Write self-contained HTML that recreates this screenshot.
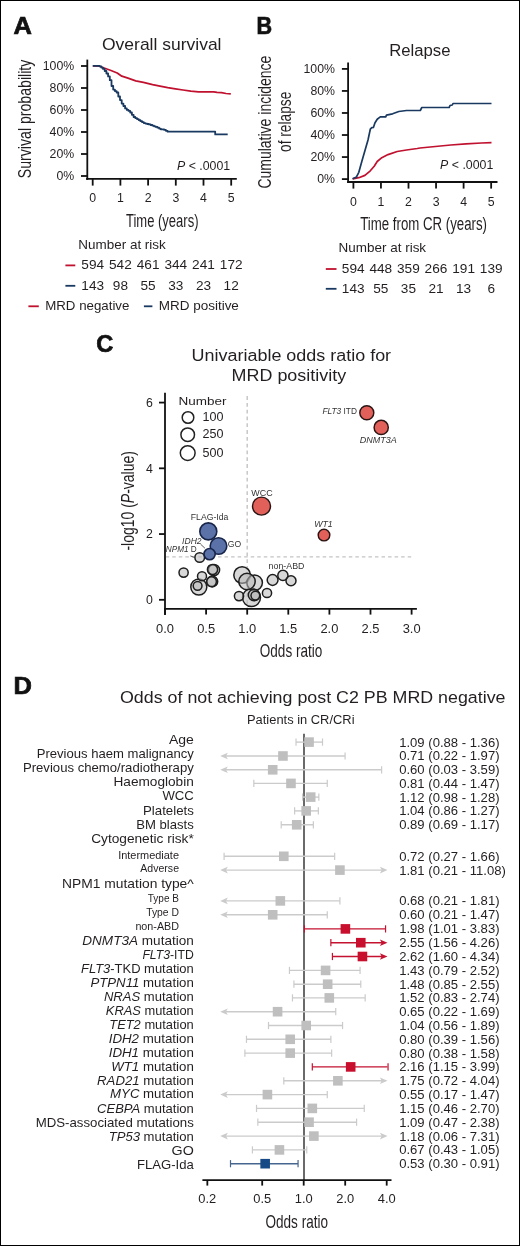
<!DOCTYPE html>
<html><head><meta charset="utf-8"><title>Figure</title>
<style>
html,body{margin:0;padding:0;background:#fff;}
body{width:520px;height:1246px;overflow:hidden;}
svg{display:block;font-family:"Liberation Sans",sans-serif;will-change:transform;}
</style></head><body>
<svg width="520" height="1246" viewBox="0 0 520 1246" fill="#231f20">
<rect x="0" y="0" width="520" height="1246" fill="#fff"/>
<text x="13.40" y="33.50" font-size="23.5" textLength="18.40" lengthAdjust="spacingAndGlyphs" font-weight="bold" fill="#111" stroke="#111" stroke-width="0.7">A</text>
<text x="102.00" y="49.80" font-size="17" textLength="119.50" lengthAdjust="spacingAndGlyphs">Overall survival</text>
<line x1="87.30" y1="59.60" x2="87.30" y2="179.90" stroke="#111" stroke-width="1.8"/>
<line x1="81.00" y1="66.00" x2="87.30" y2="66.00" stroke="#111" stroke-width="1.8"/>
<text x="74.20" y="70.30" font-size="12.3" text-anchor="end" textLength="31.46" lengthAdjust="spacingAndGlyphs">100%</text>
<line x1="81.00" y1="88.00" x2="87.30" y2="88.00" stroke="#111" stroke-width="1.8"/>
<text x="74.20" y="92.30" font-size="12.3" text-anchor="end" textLength="24.62" lengthAdjust="spacingAndGlyphs">80%</text>
<line x1="81.00" y1="110.00" x2="87.30" y2="110.00" stroke="#111" stroke-width="1.8"/>
<text x="74.20" y="114.30" font-size="12.3" text-anchor="end" textLength="24.62" lengthAdjust="spacingAndGlyphs">60%</text>
<line x1="81.00" y1="132.00" x2="87.30" y2="132.00" stroke="#111" stroke-width="1.8"/>
<text x="74.20" y="136.30" font-size="12.3" text-anchor="end" textLength="24.62" lengthAdjust="spacingAndGlyphs">40%</text>
<line x1="81.00" y1="154.00" x2="87.30" y2="154.00" stroke="#111" stroke-width="1.8"/>
<text x="74.20" y="158.30" font-size="12.3" text-anchor="end" textLength="24.62" lengthAdjust="spacingAndGlyphs">20%</text>
<line x1="81.00" y1="176.00" x2="87.30" y2="176.00" stroke="#111" stroke-width="1.8"/>
<text x="74.20" y="180.30" font-size="12.3" text-anchor="end" textLength="17.78" lengthAdjust="spacingAndGlyphs">0%</text>
<line x1="86.10" y1="178.90" x2="236.80" y2="178.90" stroke="#111" stroke-width="1.8"/>
<line x1="92.70" y1="179.00" x2="92.70" y2="185.60" stroke="#111" stroke-width="1.8"/>
<text x="92.70" y="202.40" font-size="12.3" text-anchor="middle">0</text>
<line x1="120.40" y1="179.00" x2="120.40" y2="185.60" stroke="#111" stroke-width="1.8"/>
<text x="120.40" y="202.40" font-size="12.3" text-anchor="middle">1</text>
<line x1="148.10" y1="179.00" x2="148.10" y2="185.60" stroke="#111" stroke-width="1.8"/>
<text x="148.10" y="202.40" font-size="12.3" text-anchor="middle">2</text>
<line x1="175.80" y1="179.00" x2="175.80" y2="185.60" stroke="#111" stroke-width="1.8"/>
<text x="175.80" y="202.40" font-size="12.3" text-anchor="middle">3</text>
<line x1="203.50" y1="179.00" x2="203.50" y2="185.60" stroke="#111" stroke-width="1.8"/>
<text x="203.50" y="202.40" font-size="12.3" text-anchor="middle">4</text>
<line x1="231.20" y1="179.00" x2="231.20" y2="185.60" stroke="#111" stroke-width="1.8"/>
<text x="231.20" y="202.40" font-size="12.3" text-anchor="middle">5</text>
<text x="126.00" y="227.10" font-size="18.8" textLength="72.50" lengthAdjust="spacingAndGlyphs">Time (years)</text>
<text x="177.00" y="169.50" font-size="12" textLength="53.20" lengthAdjust="spacingAndGlyphs"><tspan font-style="italic">P</tspan> &lt; .0001</text>
<text x="31.00" y="178.20" font-size="18.6" textLength="118.50" lengthAdjust="spacingAndGlyphs" transform="rotate(-90 31.00 178.20)">Survival probability</text>
<polyline points="92.8,65.8 99.5,66.2 103.4,67.7 111.0,70.5 117.2,73.0 121.8,76.2 128.0,78.2 135.7,80.8 143.4,82.3 152.6,84.6 160.0,86.2 167.7,87.7 175.4,88.9 183.0,90.0 190.8,91.2 198.5,91.8 213.8,91.8 217.0,92.3 221.5,92.6 226.0,93.5 230.8,93.8" fill="none" stroke="#c0112f" stroke-width="1.75" stroke-linejoin="round"/>
<polyline points="92.8,65.8 99.6,65.8 99.6,66.3 101.3,66.3 101.3,67.6 103.0,67.6 103.0,68.9 104.7,68.9 104.7,71.0 106.4,71.0 106.4,73.5 108.1,73.5 108.1,76.4 109.8,76.4 109.8,80.2 111.5,80.2 111.5,86.0 113.2,86.0 113.2,89.6 114.9,89.6 114.9,91.1 116.6,91.1 116.6,92.5 118.3,92.5 118.3,96.5 120.0,96.5 120.0,100.1 121.7,100.1 121.7,103.6 123.4,103.6 123.4,106.0 125.1,106.0 125.1,108.4 126.8,108.4 126.8,109.9 128.5,109.9 128.5,110.9 130.2,110.9 130.2,112.5 131.9,112.5 131.9,114.8 133.6,114.8 133.6,117.0 135.3,117.0 135.3,118.1 137.0,118.1 137.0,119.1 138.7,119.1 138.7,120.1 140.4,120.1 140.4,121.2 142.1,121.2 142.1,122.2 143.8,122.2 143.8,123.1 145.5,123.1 145.5,123.6 147.2,123.6 147.2,124.0 148.9,124.0 148.9,124.4 150.6,124.4 150.6,125.0 152.3,125.0 152.3,125.6 154.0,125.6 154.0,126.3 155.7,126.3 155.7,126.9 157.4,126.9 157.4,127.7 159.1,127.7 159.1,128.6 160.8,128.6 160.8,129.3 164.2,129.3 164.2,129.9 165.9,129.9 165.9,130.8 167.6,130.8 167.6,131.7 215.2,131.7 215.2,134.4 227.7,134.4" fill="none" stroke="#193960" stroke-width="1.8" stroke-linejoin="round"/>
<text x="78.30" y="248.80" font-size="12.4" textLength="87.50" lengthAdjust="spacingAndGlyphs">Number at risk</text>
<line x1="65.40" y1="265.40" x2="75.30" y2="265.40" stroke="#c0112f" stroke-width="1.8"/>
<line x1="65.40" y1="285.80" x2="75.30" y2="285.80" stroke="#193960" stroke-width="1.8"/>
<text x="92.70" y="269.40" font-size="12.4" text-anchor="middle" textLength="22.76" lengthAdjust="spacingAndGlyphs">594</text>
<text x="92.70" y="289.70" font-size="12.4" text-anchor="middle" textLength="22.76" lengthAdjust="spacingAndGlyphs">143</text>
<text x="120.40" y="269.40" font-size="12.4" text-anchor="middle" textLength="22.76" lengthAdjust="spacingAndGlyphs">542</text>
<text x="120.40" y="289.70" font-size="12.4" text-anchor="middle" textLength="15.17" lengthAdjust="spacingAndGlyphs">98</text>
<text x="148.10" y="269.40" font-size="12.4" text-anchor="middle" textLength="22.76" lengthAdjust="spacingAndGlyphs">461</text>
<text x="148.10" y="289.70" font-size="12.4" text-anchor="middle" textLength="15.17" lengthAdjust="spacingAndGlyphs">55</text>
<text x="175.80" y="269.40" font-size="12.4" text-anchor="middle" textLength="22.76" lengthAdjust="spacingAndGlyphs">344</text>
<text x="175.80" y="289.70" font-size="12.4" text-anchor="middle" textLength="15.17" lengthAdjust="spacingAndGlyphs">33</text>
<text x="203.50" y="269.40" font-size="12.4" text-anchor="middle" textLength="22.76" lengthAdjust="spacingAndGlyphs">241</text>
<text x="203.50" y="289.70" font-size="12.4" text-anchor="middle" textLength="15.17" lengthAdjust="spacingAndGlyphs">23</text>
<text x="231.20" y="269.40" font-size="12.4" text-anchor="middle" textLength="22.76" lengthAdjust="spacingAndGlyphs">172</text>
<text x="231.20" y="289.70" font-size="12.4" text-anchor="middle" textLength="15.17" lengthAdjust="spacingAndGlyphs">12</text>
<line x1="28.40" y1="306.30" x2="38.80" y2="306.30" stroke="#c0112f" stroke-width="1.8"/>
<text x="45.20" y="310.40" font-size="12.4" textLength="84.20" lengthAdjust="spacingAndGlyphs">MRD negative</text>
<line x1="143.90" y1="306.30" x2="152.40" y2="306.30" stroke="#193960" stroke-width="1.8"/>
<text x="158.70" y="310.40" font-size="12.4" textLength="80.20" lengthAdjust="spacingAndGlyphs">MRD positive</text>
<text x="256.40" y="33.60" font-size="23.5" textLength="15.60" lengthAdjust="spacingAndGlyphs" font-weight="bold" fill="#111" stroke="#111" stroke-width="0.7">B</text>
<text x="389.20" y="56.30" font-size="17.3" textLength="61.30" lengthAdjust="spacingAndGlyphs">Relapse</text>
<line x1="348.10" y1="62.40" x2="348.10" y2="182.90" stroke="#111" stroke-width="1.8"/>
<line x1="341.90" y1="68.90" x2="348.10" y2="68.90" stroke="#111" stroke-width="1.8"/>
<text x="335.00" y="73.20" font-size="12.3" text-anchor="end" textLength="31.46" lengthAdjust="spacingAndGlyphs">100%</text>
<line x1="341.90" y1="90.94" x2="348.10" y2="90.94" stroke="#111" stroke-width="1.8"/>
<text x="335.00" y="95.24" font-size="12.3" text-anchor="end" textLength="24.62" lengthAdjust="spacingAndGlyphs">80%</text>
<line x1="341.90" y1="112.98" x2="348.10" y2="112.98" stroke="#111" stroke-width="1.8"/>
<text x="335.00" y="117.28" font-size="12.3" text-anchor="end" textLength="24.62" lengthAdjust="spacingAndGlyphs">60%</text>
<line x1="341.90" y1="135.02" x2="348.10" y2="135.02" stroke="#111" stroke-width="1.8"/>
<text x="335.00" y="139.32" font-size="12.3" text-anchor="end" textLength="24.62" lengthAdjust="spacingAndGlyphs">40%</text>
<line x1="341.90" y1="157.06" x2="348.10" y2="157.06" stroke="#111" stroke-width="1.8"/>
<text x="335.00" y="161.36" font-size="12.3" text-anchor="end" textLength="24.62" lengthAdjust="spacingAndGlyphs">20%</text>
<line x1="341.90" y1="179.10" x2="348.10" y2="179.10" stroke="#111" stroke-width="1.8"/>
<text x="335.00" y="183.40" font-size="12.3" text-anchor="end" textLength="17.78" lengthAdjust="spacingAndGlyphs">0%</text>
<line x1="347.20" y1="182.00" x2="497.50" y2="182.00" stroke="#111" stroke-width="1.8"/>
<line x1="353.40" y1="182.00" x2="353.40" y2="188.60" stroke="#111" stroke-width="1.8"/>
<text x="353.40" y="206.00" font-size="12.3" text-anchor="middle">0</text>
<line x1="380.95" y1="182.00" x2="380.95" y2="188.60" stroke="#111" stroke-width="1.8"/>
<text x="380.95" y="206.00" font-size="12.3" text-anchor="middle">1</text>
<line x1="408.50" y1="182.00" x2="408.50" y2="188.60" stroke="#111" stroke-width="1.8"/>
<text x="408.50" y="206.00" font-size="12.3" text-anchor="middle">2</text>
<line x1="436.05" y1="182.00" x2="436.05" y2="188.60" stroke="#111" stroke-width="1.8"/>
<text x="436.05" y="206.00" font-size="12.3" text-anchor="middle">3</text>
<line x1="463.60" y1="182.00" x2="463.60" y2="188.60" stroke="#111" stroke-width="1.8"/>
<text x="463.60" y="206.00" font-size="12.3" text-anchor="middle">4</text>
<line x1="491.15" y1="182.00" x2="491.15" y2="188.60" stroke="#111" stroke-width="1.8"/>
<text x="491.15" y="206.00" font-size="12.3" text-anchor="middle">5</text>
<text x="360.20" y="230.20" font-size="18.8" textLength="126.80" lengthAdjust="spacingAndGlyphs">Time from CR (years)</text>
<text x="440.10" y="169.00" font-size="12" textLength="53.20" lengthAdjust="spacingAndGlyphs"><tspan font-style="italic">P</tspan> &lt; .0001</text>
<text x="271.20" y="188.60" font-size="18.8" textLength="133.00" lengthAdjust="spacingAndGlyphs" transform="rotate(-90 271.20 188.60)">Cumulative incidence</text>
<text x="291.10" y="152.00" font-size="18.8" textLength="60.30" lengthAdjust="spacingAndGlyphs" transform="rotate(-90 291.10 152.00)">of relapse</text>
<polyline points="352.6,178.8 358.8,177.7 364.9,175.4 370.3,170.8 374.2,166.2 377.2,161.5 381.8,157.7 388.0,154.6 397.2,151.5 406.5,150.0 417.2,148.5 420.0,148.0 435.4,146.5 450.8,145.0 466.0,143.9 481.5,143.0 491.5,142.7" fill="none" stroke="#c0112f" stroke-width="1.7" stroke-linejoin="round"/>
<polyline points="352.6,178.8 356.5,176.9 358.8,172.3 361.8,161.5 364.9,150.8 368.0,140.0 370.3,129.2 371.8,127.7 373.4,127.4 374.9,123.0 377.2,119.2 380.3,116.9 385.7,116.9 386.5,115.1 392.6,113.8 398.8,111.5 406.5,110.5 420.3,110.5 421.8,107.5 449.2,107.3 450.0,105.5 452.3,105.0 453.0,103.5 491.5,103.5" fill="none" stroke="#193960" stroke-width="1.7" stroke-linejoin="round"/>
<text x="338.60" y="251.90" font-size="12.4" textLength="87.50" lengthAdjust="spacingAndGlyphs">Number at risk</text>
<line x1="325.80" y1="269.00" x2="336.50" y2="269.00" stroke="#c0112f" stroke-width="1.8"/>
<line x1="325.80" y1="288.80" x2="336.50" y2="288.80" stroke="#193960" stroke-width="1.8"/>
<text x="353.20" y="272.60" font-size="12.4" text-anchor="middle" textLength="22.76" lengthAdjust="spacingAndGlyphs">594</text>
<text x="353.20" y="292.70" font-size="12.4" text-anchor="middle" textLength="22.76" lengthAdjust="spacingAndGlyphs">143</text>
<text x="380.80" y="272.60" font-size="12.4" text-anchor="middle" textLength="22.76" lengthAdjust="spacingAndGlyphs">448</text>
<text x="380.80" y="292.70" font-size="12.4" text-anchor="middle" textLength="15.17" lengthAdjust="spacingAndGlyphs">55</text>
<text x="408.40" y="272.60" font-size="12.4" text-anchor="middle" textLength="22.76" lengthAdjust="spacingAndGlyphs">359</text>
<text x="408.40" y="292.70" font-size="12.4" text-anchor="middle" textLength="15.17" lengthAdjust="spacingAndGlyphs">35</text>
<text x="436.00" y="272.60" font-size="12.4" text-anchor="middle" textLength="22.76" lengthAdjust="spacingAndGlyphs">266</text>
<text x="436.00" y="292.70" font-size="12.4" text-anchor="middle" textLength="15.17" lengthAdjust="spacingAndGlyphs">21</text>
<text x="463.60" y="272.60" font-size="12.4" text-anchor="middle" textLength="22.76" lengthAdjust="spacingAndGlyphs">191</text>
<text x="463.60" y="292.70" font-size="12.4" text-anchor="middle" textLength="15.17" lengthAdjust="spacingAndGlyphs">13</text>
<text x="491.20" y="272.60" font-size="12.4" text-anchor="middle" textLength="22.76" lengthAdjust="spacingAndGlyphs">139</text>
<text x="491.20" y="292.70" font-size="12.4" text-anchor="middle" textLength="7.59" lengthAdjust="spacingAndGlyphs">6</text>
<text x="96.20" y="352.30" font-size="23.6" font-weight="bold" fill="#111" stroke="#111" stroke-width="0.7">C</text>
<text x="191.60" y="360.50" font-size="16" textLength="199.50" lengthAdjust="spacingAndGlyphs">Univariable odds ratio for</text>
<text x="231.60" y="381.20" font-size="16" textLength="114.50" lengthAdjust="spacingAndGlyphs">MRD positivity</text>
<line x1="247.2" y1="396.1" x2="247.2" y2="607.5" stroke="#c4c4c4" stroke-width="1.4" stroke-dasharray="3.8 3"/>
<line x1="165.7" y1="556.9" x2="412.3" y2="556.9" stroke="#c4c4c4" stroke-width="1.4" stroke-dasharray="3.5 3.04"/>
<line x1="165.00" y1="392.80" x2="165.00" y2="615.00" stroke="#111" stroke-width="1.8"/>
<line x1="164.10" y1="608.80" x2="416.90" y2="608.80" stroke="#111" stroke-width="1.8"/>
<line x1="159.00" y1="599.80" x2="165.00" y2="599.80" stroke="#111" stroke-width="1.8"/>
<text x="152.90" y="604.10" font-size="12.3" text-anchor="end">0</text>
<line x1="159.00" y1="534.06" x2="165.00" y2="534.06" stroke="#111" stroke-width="1.8"/>
<text x="152.90" y="538.36" font-size="12.3" text-anchor="end">2</text>
<line x1="159.00" y1="468.32" x2="165.00" y2="468.32" stroke="#111" stroke-width="1.8"/>
<text x="152.90" y="472.62" font-size="12.3" text-anchor="end">4</text>
<line x1="159.00" y1="402.58" x2="165.00" y2="402.58" stroke="#111" stroke-width="1.8"/>
<text x="152.90" y="406.88" font-size="12.3" text-anchor="end">6</text>
<line x1="165.00" y1="608.80" x2="165.00" y2="614.60" stroke="#111" stroke-width="1.8"/>
<text x="165.00" y="633.40" font-size="12.3" text-anchor="middle" textLength="17.95" lengthAdjust="spacingAndGlyphs">0.0</text>
<line x1="206.10" y1="608.80" x2="206.10" y2="614.60" stroke="#111" stroke-width="1.8"/>
<text x="206.10" y="633.40" font-size="12.3" text-anchor="middle" textLength="17.95" lengthAdjust="spacingAndGlyphs">0.5</text>
<line x1="247.20" y1="608.80" x2="247.20" y2="614.60" stroke="#111" stroke-width="1.8"/>
<text x="247.20" y="633.40" font-size="12.3" text-anchor="middle" textLength="17.95" lengthAdjust="spacingAndGlyphs">1.0</text>
<line x1="288.30" y1="608.80" x2="288.30" y2="614.60" stroke="#111" stroke-width="1.8"/>
<text x="288.30" y="633.40" font-size="12.3" text-anchor="middle" textLength="17.95" lengthAdjust="spacingAndGlyphs">1.5</text>
<line x1="329.40" y1="608.80" x2="329.40" y2="614.60" stroke="#111" stroke-width="1.8"/>
<text x="329.40" y="633.40" font-size="12.3" text-anchor="middle" textLength="17.95" lengthAdjust="spacingAndGlyphs">2.0</text>
<line x1="370.50" y1="608.80" x2="370.50" y2="614.60" stroke="#111" stroke-width="1.8"/>
<text x="370.50" y="633.40" font-size="12.3" text-anchor="middle" textLength="17.95" lengthAdjust="spacingAndGlyphs">2.5</text>
<line x1="411.60" y1="608.80" x2="411.60" y2="614.60" stroke="#111" stroke-width="1.8"/>
<text x="411.60" y="633.40" font-size="12.3" text-anchor="middle" textLength="17.95" lengthAdjust="spacingAndGlyphs">3.0</text>
<text x="259.80" y="657.10" font-size="18.5" textLength="62.50" lengthAdjust="spacingAndGlyphs">Odds ratio</text>
<text x="134.40" y="550.60" font-size="17.6" textLength="99.50" lengthAdjust="spacingAndGlyphs" transform="rotate(-90 134.40 550.60)">-log10 (<tspan font-style="italic">P</tspan>-value)</text>
<text x="178.40" y="404.50" font-size="11.2" textLength="48.00" lengthAdjust="spacingAndGlyphs">Number</text>
<circle cx="188.00" cy="417.50" r="5.80" fill="none" stroke="#222" stroke-width="1.5"/>
<circle cx="187.70" cy="434.70" r="6.80" fill="none" stroke="#222" stroke-width="1.5"/>
<circle cx="187.70" cy="453.10" r="7.40" fill="none" stroke="#222" stroke-width="1.5"/>
<text x="202.60" y="421.30" font-size="12.4" textLength="21.00" lengthAdjust="spacingAndGlyphs">100</text>
<text x="202.60" y="437.90" font-size="12.4" textLength="21.00" lengthAdjust="spacingAndGlyphs">250</text>
<text x="202.60" y="456.70" font-size="12.4" textLength="21.00" lengthAdjust="spacingAndGlyphs">500</text>
<circle cx="183.60" cy="572.60" r="4.60" fill="#b8b8b8" fill-opacity="0.55" stroke="#1e1e1e" stroke-width="1.5"/>
<circle cx="198.80" cy="587.00" r="8.00" fill="#b8b8b8" fill-opacity="0.55" stroke="#1e1e1e" stroke-width="1.5"/>
<circle cx="197.60" cy="585.80" r="4.40" fill="#b8b8b8" fill-opacity="0.55" stroke="#1e1e1e" stroke-width="1.5"/>
<circle cx="202.00" cy="576.20" r="4.50" fill="#b8b8b8" fill-opacity="0.55" stroke="#1e1e1e" stroke-width="1.5"/>
<circle cx="212.30" cy="581.50" r="5.40" fill="#b8b8b8" fill-opacity="0.55" stroke="#1e1e1e" stroke-width="1.5"/>
<circle cx="211.50" cy="581.70" r="4.90" fill="#b8b8b8" fill-opacity="0.55" stroke="#1e1e1e" stroke-width="1.5"/>
<circle cx="214.00" cy="570.00" r="5.60" fill="#b8b8b8" fill-opacity="0.55" stroke="#1e1e1e" stroke-width="1.5"/>
<circle cx="212.50" cy="569.50" r="5.10" fill="#b8b8b8" fill-opacity="0.55" stroke="#1e1e1e" stroke-width="1.5"/>
<circle cx="251.50" cy="597.60" r="9.00" fill="#b8b8b8" fill-opacity="0.55" stroke="#1e1e1e" stroke-width="1.5"/>
<circle cx="242.10" cy="575.00" r="8.30" fill="#b8b8b8" fill-opacity="0.55" stroke="#1e1e1e" stroke-width="1.5"/>
<circle cx="254.60" cy="582.80" r="7.80" fill="#b8b8b8" fill-opacity="0.55" stroke="#1e1e1e" stroke-width="1.5"/>
<circle cx="247.00" cy="581.50" r="8.20" fill="#b8b8b8" fill-opacity="0.55" stroke="#1e1e1e" stroke-width="1.5"/>
<circle cx="239.00" cy="596.10" r="4.60" fill="#b8b8b8" fill-opacity="0.55" stroke="#1e1e1e" stroke-width="1.5"/>
<circle cx="254.00" cy="595.00" r="5.70" fill="#b8b8b8" fill-opacity="0.55" stroke="#1e1e1e" stroke-width="1.5"/>
<circle cx="255.40" cy="595.60" r="4.40" fill="#b8b8b8" fill-opacity="0.55" stroke="#1e1e1e" stroke-width="1.5"/>
<circle cx="267.00" cy="593.00" r="4.60" fill="#b8b8b8" fill-opacity="0.55" stroke="#1e1e1e" stroke-width="1.5"/>
<circle cx="282.90" cy="575.40" r="5.10" fill="#b8b8b8" fill-opacity="0.55" stroke="#1e1e1e" stroke-width="1.5"/>
<circle cx="272.60" cy="580.00" r="5.40" fill="#b8b8b8" fill-opacity="0.55" stroke="#1e1e1e" stroke-width="1.5"/>
<circle cx="291.00" cy="580.70" r="5.00" fill="#b8b8b8" fill-opacity="0.55" stroke="#1e1e1e" stroke-width="1.5"/>
<circle cx="199.70" cy="557.50" r="4.80" fill="#b8b8b8" fill-opacity="0.55" stroke="#1e1e1e" stroke-width="1.5"/>
<circle cx="208.30" cy="531.40" r="8.50" fill="#5a72a8" stroke="#18254a" stroke-width="1.6"/>
<circle cx="218.50" cy="546.00" r="8.30" fill="#5a72a8" stroke="#18254a" stroke-width="1.6"/>
<circle cx="209.60" cy="554.10" r="5.60" fill="#5a72a8" stroke="#18254a" stroke-width="1.6"/>
<circle cx="366.80" cy="412.70" r="7.00" fill="#e2605a" stroke="#2a1414" stroke-width="1.45"/>
<circle cx="381.20" cy="427.40" r="7.10" fill="#e2605a" stroke="#2a1414" stroke-width="1.45"/>
<circle cx="261.50" cy="506.10" r="9.00" fill="#e2605a" stroke="#2a1414" stroke-width="1.45"/>
<circle cx="324.00" cy="535.10" r="5.80" fill="#e2605a" stroke="#2a1414" stroke-width="1.45"/>
<text x="322.40" y="414.30" font-size="9.3" textLength="34.50" lengthAdjust="spacingAndGlyphs" fill="#333"><tspan font-style="italic">FLT3</tspan> ITD</text>
<text x="359.80" y="443.10" font-size="9.3" textLength="37.00" lengthAdjust="spacingAndGlyphs" fill="#333"><tspan font-style="italic">DNMT3A</tspan></text>
<text x="251.30" y="496.40" font-size="9.3" textLength="21.30" lengthAdjust="spacingAndGlyphs" fill="#333">WCC</text>
<text x="314.20" y="527.10" font-size="9.3" textLength="18.50" lengthAdjust="spacingAndGlyphs" fill="#333"><tspan font-style="italic">WT1</tspan></text>
<text x="190.80" y="520.40" font-size="9.3" textLength="37.50" lengthAdjust="spacingAndGlyphs" fill="#333">FLAG-Ida</text>
<text x="182.10" y="543.50" font-size="9.3" textLength="19.50" lengthAdjust="spacingAndGlyphs" fill="#333"><tspan font-style="italic">IDH2</tspan></text>
<text x="227.80" y="547.00" font-size="9.3" textLength="13.40" lengthAdjust="spacingAndGlyphs" fill="#333">GO</text>
<text x="165.80" y="552.10" font-size="9.3" textLength="31.00" lengthAdjust="spacingAndGlyphs" fill="#333"><tspan font-style="italic">NPM1</tspan> D</text>
<text x="268.60" y="568.70" font-size="9.3" textLength="35.80" lengthAdjust="spacingAndGlyphs" fill="#333">non-ABD</text>
<line x1="200.60" y1="544.20" x2="204.90" y2="548.20" stroke="#333" stroke-width="0.8"/>
<line x1="190.30" y1="555.90" x2="194.60" y2="557.50" stroke="#333" stroke-width="0.8"/>
<text x="13.60" y="694.30" font-size="23.3" textLength="18.40" lengthAdjust="spacingAndGlyphs" font-weight="bold" fill="#111" stroke="#111" stroke-width="0.7">D</text>
<text x="120.00" y="702.60" font-size="16.3" textLength="385.50" lengthAdjust="spacingAndGlyphs">Odds of not achieving post C2 PB MRD negative</text>
<text x="247.00" y="723.90" font-size="12" textLength="107.50" lengthAdjust="spacingAndGlyphs">Patients in CR/CRi</text>
<line x1="304.00" y1="733.80" x2="304.00" y2="1180.50" stroke="#5a5a5a" stroke-width="1.8"/>
<text x="193.80" y="744.20" font-size="13.4" text-anchor="end" textLength="24.90" lengthAdjust="spacingAndGlyphs">Age</text>
<line x1="296.02" y1="742.10" x2="322.52" y2="742.10" stroke="#cbcbcb" stroke-width="1.4"/>
<line x1="296.02" y1="738.50" x2="296.02" y2="745.70" stroke="#cbcbcb" stroke-width="1.2"/>
<line x1="322.52" y1="738.50" x2="322.52" y2="745.70" stroke="#cbcbcb" stroke-width="1.2"/>
<rect x="304.25" y="737.30" width="9.60" height="9.60" fill="#bfbfbf"/>
<text x="399.20" y="746.50" font-size="12.0" textLength="100.33" lengthAdjust="spacingAndGlyphs">1.09 (0.88 - 1.36)</text>
<text x="193.80" y="758.00" font-size="13.4" text-anchor="end" textLength="157.10" lengthAdjust="spacingAndGlyphs">Previous haem malignancy</text>
<line x1="224.20" y1="756.00" x2="345.08" y2="756.00" stroke="#cbcbcb" stroke-width="1.4"/>
<polygon points="220.20,756.00 227.80,752.70 226.00,756.00 227.80,759.30" fill="#cbcbcb"/>
<line x1="345.08" y1="752.40" x2="345.08" y2="759.60" stroke="#cbcbcb" stroke-width="1.2"/>
<rect x="278.15" y="751.20" width="9.60" height="9.60" fill="#bfbfbf"/>
<text x="399.20" y="760.40" font-size="12.0" textLength="100.33" lengthAdjust="spacingAndGlyphs">0.71 (0.22 - 1.97)</text>
<text x="193.80" y="771.80" font-size="13.4" text-anchor="end" textLength="170.90" lengthAdjust="spacingAndGlyphs">Previous chemo/radiotherapy</text>
<line x1="224.20" y1="769.80" x2="381.62" y2="769.80" stroke="#cbcbcb" stroke-width="1.4"/>
<polygon points="220.20,769.80 227.80,766.50 226.00,769.80 227.80,773.10" fill="#cbcbcb"/>
<line x1="381.62" y1="766.20" x2="381.62" y2="773.40" stroke="#cbcbcb" stroke-width="1.2"/>
<rect x="267.90" y="765.00" width="9.60" height="9.60" fill="#bfbfbf"/>
<text x="399.20" y="774.20" font-size="12.0" textLength="100.33" lengthAdjust="spacingAndGlyphs">0.60 (0.03 - 3.59)</text>
<text x="193.80" y="785.90" font-size="13.4" text-anchor="end" textLength="80.30" lengthAdjust="spacingAndGlyphs">Haemoglobin</text>
<line x1="253.82" y1="783.40" x2="327.26" y2="783.40" stroke="#cbcbcb" stroke-width="1.4"/>
<line x1="253.82" y1="779.80" x2="253.82" y2="787.00" stroke="#cbcbcb" stroke-width="1.2"/>
<line x1="327.26" y1="779.80" x2="327.26" y2="787.00" stroke="#cbcbcb" stroke-width="1.2"/>
<rect x="286.17" y="778.60" width="9.60" height="9.60" fill="#bfbfbf"/>
<text x="399.20" y="787.80" font-size="12.0" textLength="100.33" lengthAdjust="spacingAndGlyphs">0.81 (0.44 - 1.47)</text>
<text x="193.80" y="800.40" font-size="13.4" text-anchor="end" textLength="31.40" lengthAdjust="spacingAndGlyphs">WCC</text>
<line x1="302.57" y1="797.10" x2="318.83" y2="797.10" stroke="#cbcbcb" stroke-width="1.4"/>
<line x1="302.57" y1="793.50" x2="302.57" y2="800.70" stroke="#cbcbcb" stroke-width="1.2"/>
<line x1="318.83" y1="793.50" x2="318.83" y2="800.70" stroke="#cbcbcb" stroke-width="1.2"/>
<rect x="305.90" y="792.30" width="9.60" height="9.60" fill="#bfbfbf"/>
<text x="399.20" y="801.50" font-size="12.0" textLength="100.33" lengthAdjust="spacingAndGlyphs">1.12 (0.98 - 1.28)</text>
<text x="193.80" y="814.50" font-size="13.4" text-anchor="end" textLength="50.80" lengthAdjust="spacingAndGlyphs">Platelets</text>
<line x1="294.62" y1="810.90" x2="318.35" y2="810.90" stroke="#cbcbcb" stroke-width="1.4"/>
<line x1="294.62" y1="807.30" x2="294.62" y2="814.50" stroke="#cbcbcb" stroke-width="1.2"/>
<line x1="318.35" y1="807.30" x2="318.35" y2="814.50" stroke="#cbcbcb" stroke-width="1.2"/>
<rect x="301.39" y="806.10" width="9.60" height="9.60" fill="#bfbfbf"/>
<text x="399.20" y="815.30" font-size="12.0" textLength="100.33" lengthAdjust="spacingAndGlyphs">1.04 (0.86 - 1.27)</text>
<text x="193.80" y="828.50" font-size="13.4" text-anchor="end" textLength="57.60" lengthAdjust="spacingAndGlyphs">BM blasts</text>
<line x1="281.21" y1="824.80" x2="313.36" y2="824.80" stroke="#cbcbcb" stroke-width="1.4"/>
<line x1="281.21" y1="821.20" x2="281.21" y2="828.40" stroke="#cbcbcb" stroke-width="1.2"/>
<line x1="313.36" y1="821.20" x2="313.36" y2="828.40" stroke="#cbcbcb" stroke-width="1.2"/>
<rect x="291.91" y="820.00" width="9.60" height="9.60" fill="#bfbfbf"/>
<text x="399.20" y="829.20" font-size="12.0" textLength="100.33" lengthAdjust="spacingAndGlyphs">0.89 (0.69 - 1.17)</text>
<text x="193.80" y="843.00" font-size="13.4" text-anchor="end" textLength="102.60" lengthAdjust="spacingAndGlyphs">Cytogenetic risk*</text>
<text x="179.00" y="858.50" font-size="10.2" text-anchor="end" textLength="60.80" lengthAdjust="spacingAndGlyphs">Intermediate</text>
<line x1="224.09" y1="856.30" x2="334.66" y2="856.30" stroke="#cbcbcb" stroke-width="1.4"/>
<line x1="224.09" y1="852.70" x2="224.09" y2="859.90" stroke="#cbcbcb" stroke-width="1.2"/>
<line x1="334.66" y1="852.70" x2="334.66" y2="859.90" stroke="#cbcbcb" stroke-width="1.2"/>
<rect x="279.00" y="851.50" width="9.60" height="9.60" fill="#bfbfbf"/>
<text x="399.20" y="860.70" font-size="12.0" textLength="100.33" lengthAdjust="spacingAndGlyphs">0.72 (0.27 - 1.66)</text>
<text x="179.00" y="872.30" font-size="10.2" text-anchor="end" textLength="38.70" lengthAdjust="spacingAndGlyphs">Adverse</text>
<line x1="224.20" y1="870.10" x2="383.50" y2="870.10" stroke="#cbcbcb" stroke-width="1.4"/>
<polygon points="220.20,870.10 227.80,866.80 226.00,870.10 227.80,873.40" fill="#cbcbcb"/>
<polygon points="387.50,870.10 379.90,866.80 381.70,870.10 379.90,873.40" fill="#cbcbcb"/>
<rect x="335.12" y="865.30" width="9.60" height="9.60" fill="#bfbfbf"/>
<text x="399.20" y="874.50" font-size="12.0" textLength="106.63" lengthAdjust="spacingAndGlyphs">1.81 (0.21 - 11.08)</text>
<text x="193.80" y="887.90" font-size="13.4" text-anchor="end" textLength="131.70" lengthAdjust="spacingAndGlyphs">NPM1 mutation type^</text>
<text x="179.00" y="901.70" font-size="10.2" text-anchor="end" textLength="31.20" lengthAdjust="spacingAndGlyphs">Type B</text>
<line x1="224.20" y1="900.90" x2="339.92" y2="900.90" stroke="#cbcbcb" stroke-width="1.4"/>
<polygon points="220.20,900.90 227.80,897.60 226.00,900.90 227.80,904.20" fill="#cbcbcb"/>
<line x1="339.92" y1="897.30" x2="339.92" y2="904.50" stroke="#cbcbcb" stroke-width="1.2"/>
<rect x="275.52" y="896.10" width="9.60" height="9.60" fill="#bfbfbf"/>
<text x="399.20" y="905.30" font-size="12.0" textLength="100.33" lengthAdjust="spacingAndGlyphs">0.68 (0.21 - 1.81)</text>
<text x="179.00" y="915.60" font-size="10.2" text-anchor="end" textLength="32.80" lengthAdjust="spacingAndGlyphs">Type D</text>
<line x1="224.20" y1="914.80" x2="327.26" y2="914.80" stroke="#cbcbcb" stroke-width="1.4"/>
<polygon points="220.20,914.80 227.80,911.50 226.00,914.80 227.80,918.10" fill="#cbcbcb"/>
<line x1="327.26" y1="911.20" x2="327.26" y2="918.40" stroke="#cbcbcb" stroke-width="1.2"/>
<rect x="267.90" y="910.00" width="9.60" height="9.60" fill="#bfbfbf"/>
<text x="399.20" y="919.20" font-size="12.0" textLength="100.33" lengthAdjust="spacingAndGlyphs">0.60 (0.21 - 1.47)</text>
<text x="179.00" y="930.40" font-size="10.2" text-anchor="end" textLength="43.60" lengthAdjust="spacingAndGlyphs">non-ABD</text>
<line x1="304.41" y1="928.90" x2="385.56" y2="928.90" stroke="#c41230" stroke-width="1.4"/>
<line x1="304.41" y1="925.30" x2="304.41" y2="932.50" stroke="#c41230" stroke-width="1.2"/>
<line x1="385.56" y1="925.30" x2="385.56" y2="932.50" stroke="#c41230" stroke-width="1.2"/>
<rect x="340.59" y="924.10" width="9.60" height="9.60" fill="#c8102e"/>
<text x="399.20" y="933.30" font-size="12.0" textLength="100.33" lengthAdjust="spacingAndGlyphs">1.98 (1.01 - 3.83)</text>
<text x="193.80" y="944.80" font-size="13.4" text-anchor="end" textLength="111.50" lengthAdjust="spacingAndGlyphs"><tspan font-style="italic">DNMT3A</tspan> mutation</text>
<line x1="330.87" y1="942.70" x2="383.50" y2="942.70" stroke="#c41230" stroke-width="1.4"/>
<line x1="330.87" y1="939.10" x2="330.87" y2="946.30" stroke="#c41230" stroke-width="1.2"/>
<polygon points="387.50,942.70 379.90,939.40 381.70,942.70 379.90,946.00" fill="#c41230"/>
<rect x="355.99" y="937.90" width="9.60" height="9.60" fill="#c8102e"/>
<text x="399.20" y="947.10" font-size="12.0" textLength="100.33" lengthAdjust="spacingAndGlyphs">2.55 (1.56 - 4.26)</text>
<text x="193.80" y="959.10" font-size="13.4" text-anchor="end" textLength="51.40" lengthAdjust="spacingAndGlyphs"><tspan font-style="italic">FLT3</tspan>-ITD</text>
<line x1="332.41" y1="956.50" x2="383.50" y2="956.50" stroke="#c41230" stroke-width="1.4"/>
<line x1="332.41" y1="952.90" x2="332.41" y2="960.10" stroke="#c41230" stroke-width="1.2"/>
<polygon points="387.50,956.50 379.90,953.20 381.70,956.50 379.90,959.80" fill="#c41230"/>
<rect x="357.64" y="951.70" width="9.60" height="9.60" fill="#c8102e"/>
<text x="399.20" y="960.90" font-size="12.0" textLength="100.33" lengthAdjust="spacingAndGlyphs">2.62 (1.60 - 4.34)</text>
<text x="193.80" y="973.10" font-size="13.4" text-anchor="end" textLength="112.80" lengthAdjust="spacingAndGlyphs"><tspan font-style="italic">FLT3</tspan>-TKD mutation</text>
<line x1="289.45" y1="970.40" x2="360.07" y2="970.40" stroke="#cbcbcb" stroke-width="1.4"/>
<line x1="289.45" y1="966.80" x2="289.45" y2="974.00" stroke="#cbcbcb" stroke-width="1.2"/>
<line x1="360.07" y1="966.80" x2="360.07" y2="974.00" stroke="#cbcbcb" stroke-width="1.2"/>
<rect x="320.78" y="965.60" width="9.60" height="9.60" fill="#bfbfbf"/>
<text x="399.20" y="974.80" font-size="12.0" textLength="100.33" lengthAdjust="spacingAndGlyphs">1.43 (0.79 - 2.52)</text>
<text x="193.80" y="986.80" font-size="13.4" text-anchor="end" textLength="103.40" lengthAdjust="spacingAndGlyphs"><tspan font-style="italic">PTPN11</tspan> mutation</text>
<line x1="293.91" y1="984.20" x2="360.79" y2="984.20" stroke="#cbcbcb" stroke-width="1.4"/>
<line x1="293.91" y1="980.60" x2="293.91" y2="987.80" stroke="#cbcbcb" stroke-width="1.2"/>
<line x1="360.79" y1="980.60" x2="360.79" y2="987.80" stroke="#cbcbcb" stroke-width="1.2"/>
<rect x="322.87" y="979.40" width="9.60" height="9.60" fill="#bfbfbf"/>
<text x="399.20" y="988.60" font-size="12.0" textLength="100.33" lengthAdjust="spacingAndGlyphs">1.48 (0.85 - 2.55)</text>
<text x="193.80" y="1000.90" font-size="13.4" text-anchor="end" textLength="89.90" lengthAdjust="spacingAndGlyphs"><tspan font-style="italic">NRAS</tspan> mutation</text>
<line x1="292.46" y1="997.90" x2="365.17" y2="997.90" stroke="#cbcbcb" stroke-width="1.4"/>
<line x1="292.46" y1="994.30" x2="292.46" y2="1001.50" stroke="#cbcbcb" stroke-width="1.2"/>
<line x1="365.17" y1="994.30" x2="365.17" y2="1001.50" stroke="#cbcbcb" stroke-width="1.2"/>
<rect x="324.49" y="993.10" width="9.60" height="9.60" fill="#bfbfbf"/>
<text x="399.20" y="1002.30" font-size="12.0" textLength="100.33" lengthAdjust="spacingAndGlyphs">1.52 (0.83 - 2.74)</text>
<text x="193.80" y="1015.10" font-size="13.4" text-anchor="end" textLength="88.00" lengthAdjust="spacingAndGlyphs"><tspan font-style="italic">KRAS</tspan> mutation</text>
<line x1="224.20" y1="1011.70" x2="335.75" y2="1011.70" stroke="#cbcbcb" stroke-width="1.4"/>
<polygon points="220.20,1011.70 227.80,1008.40 226.00,1011.70 227.80,1015.00" fill="#cbcbcb"/>
<line x1="335.75" y1="1008.10" x2="335.75" y2="1015.30" stroke="#cbcbcb" stroke-width="1.2"/>
<rect x="272.77" y="1006.90" width="9.60" height="9.60" fill="#bfbfbf"/>
<text x="399.20" y="1016.10" font-size="12.0" textLength="100.33" lengthAdjust="spacingAndGlyphs">0.65 (0.22 - 1.69)</text>
<text x="193.80" y="1029.10" font-size="13.4" text-anchor="end" textLength="84.50" lengthAdjust="spacingAndGlyphs"><tspan font-style="italic">TET2</tspan> mutation</text>
<line x1="268.50" y1="1025.50" x2="342.56" y2="1025.50" stroke="#cbcbcb" stroke-width="1.4"/>
<line x1="268.50" y1="1021.90" x2="268.50" y2="1029.10" stroke="#cbcbcb" stroke-width="1.2"/>
<line x1="342.56" y1="1021.90" x2="342.56" y2="1029.10" stroke="#cbcbcb" stroke-width="1.2"/>
<rect x="301.39" y="1020.70" width="9.60" height="9.60" fill="#bfbfbf"/>
<text x="399.20" y="1029.90" font-size="12.0" textLength="100.33" lengthAdjust="spacingAndGlyphs">1.04 (0.56 - 1.89)</text>
<text x="193.80" y="1043.00" font-size="13.4" text-anchor="end" textLength="85.10" lengthAdjust="spacingAndGlyphs"><tspan font-style="italic">IDH2</tspan> mutation</text>
<line x1="246.47" y1="1039.30" x2="330.87" y2="1039.30" stroke="#cbcbcb" stroke-width="1.4"/>
<line x1="246.47" y1="1035.70" x2="246.47" y2="1042.90" stroke="#cbcbcb" stroke-width="1.2"/>
<line x1="330.87" y1="1035.70" x2="330.87" y2="1042.90" stroke="#cbcbcb" stroke-width="1.2"/>
<rect x="285.41" y="1034.50" width="9.60" height="9.60" fill="#bfbfbf"/>
<text x="399.20" y="1043.70" font-size="12.0" textLength="100.33" lengthAdjust="spacingAndGlyphs">0.80 (0.39 - 1.56)</text>
<text x="193.80" y="1057.00" font-size="13.4" text-anchor="end" textLength="85.10" lengthAdjust="spacingAndGlyphs"><tspan font-style="italic">IDH1</tspan> mutation</text>
<line x1="244.89" y1="1053.10" x2="331.65" y2="1053.10" stroke="#cbcbcb" stroke-width="1.4"/>
<line x1="244.89" y1="1049.50" x2="244.89" y2="1056.70" stroke="#cbcbcb" stroke-width="1.2"/>
<line x1="331.65" y1="1049.50" x2="331.65" y2="1056.70" stroke="#cbcbcb" stroke-width="1.2"/>
<rect x="285.41" y="1048.30" width="9.60" height="9.60" fill="#bfbfbf"/>
<text x="399.20" y="1057.50" font-size="12.0" textLength="100.33" lengthAdjust="spacingAndGlyphs">0.80 (0.38 - 1.58)</text>
<text x="193.80" y="1070.60" font-size="13.4" text-anchor="end" textLength="82.60" lengthAdjust="spacingAndGlyphs"><tspan font-style="italic">WT1</tspan> mutation</text>
<line x1="312.31" y1="1066.90" x2="387.50" y2="1066.90" stroke="#c41230" stroke-width="1.4"/>
<line x1="312.31" y1="1063.30" x2="312.31" y2="1070.50" stroke="#c41230" stroke-width="1.2"/>
<line x1="388.05" y1="1063.30" x2="388.05" y2="1070.50" stroke="#c41230" stroke-width="1.2"/>
<rect x="345.89" y="1062.10" width="9.60" height="9.60" fill="#c8102e"/>
<text x="399.20" y="1071.30" font-size="12.0" textLength="100.33" lengthAdjust="spacingAndGlyphs">2.16 (1.15 - 3.99)</text>
<text x="193.80" y="1084.50" font-size="13.4" text-anchor="end" textLength="96.70" lengthAdjust="spacingAndGlyphs"><tspan font-style="italic">RAD21</tspan> mutation</text>
<line x1="283.80" y1="1080.80" x2="383.50" y2="1080.80" stroke="#cbcbcb" stroke-width="1.4"/>
<line x1="283.80" y1="1077.20" x2="283.80" y2="1084.40" stroke="#cbcbcb" stroke-width="1.2"/>
<polygon points="387.50,1080.80 379.90,1077.50 381.70,1080.80 379.90,1084.10" fill="#cbcbcb"/>
<rect x="333.07" y="1076.00" width="9.60" height="9.60" fill="#bfbfbf"/>
<text x="399.20" y="1085.20" font-size="12.0" textLength="100.33" lengthAdjust="spacingAndGlyphs">1.75 (0.72 - 4.04)</text>
<text x="193.80" y="1098.40" font-size="13.4" text-anchor="end" textLength="83.70" lengthAdjust="spacingAndGlyphs"><tspan font-style="italic">MYC</tspan> mutation</text>
<line x1="224.20" y1="1094.60" x2="327.26" y2="1094.60" stroke="#cbcbcb" stroke-width="1.4"/>
<polygon points="220.20,1094.60 227.80,1091.30 226.00,1094.60 227.80,1097.90" fill="#cbcbcb"/>
<line x1="327.26" y1="1091.00" x2="327.26" y2="1098.20" stroke="#cbcbcb" stroke-width="1.2"/>
<rect x="262.60" y="1089.80" width="9.60" height="9.60" fill="#bfbfbf"/>
<text x="399.20" y="1099.00" font-size="12.0" textLength="100.33" lengthAdjust="spacingAndGlyphs">0.55 (0.17 - 1.47)</text>
<text x="193.80" y="1112.80" font-size="13.4" text-anchor="end" textLength="96.70" lengthAdjust="spacingAndGlyphs"><tspan font-style="italic">CEBPA</tspan> mutation</text>
<line x1="256.52" y1="1108.40" x2="364.27" y2="1108.40" stroke="#cbcbcb" stroke-width="1.4"/>
<line x1="256.52" y1="1104.80" x2="256.52" y2="1112.00" stroke="#cbcbcb" stroke-width="1.2"/>
<line x1="364.27" y1="1104.80" x2="364.27" y2="1112.00" stroke="#cbcbcb" stroke-width="1.2"/>
<rect x="307.51" y="1103.60" width="9.60" height="9.60" fill="#bfbfbf"/>
<text x="399.20" y="1112.80" font-size="12.0" textLength="100.33" lengthAdjust="spacingAndGlyphs">1.15 (0.46 - 2.70)</text>
<text x="193.80" y="1126.90" font-size="13.4" text-anchor="end" textLength="158.10" lengthAdjust="spacingAndGlyphs">MDS-associated mutations</text>
<line x1="257.83" y1="1122.20" x2="356.59" y2="1122.20" stroke="#cbcbcb" stroke-width="1.4"/>
<line x1="257.83" y1="1118.60" x2="257.83" y2="1125.80" stroke="#cbcbcb" stroke-width="1.2"/>
<line x1="356.59" y1="1118.60" x2="356.59" y2="1125.80" stroke="#cbcbcb" stroke-width="1.2"/>
<rect x="304.25" y="1117.40" width="9.60" height="9.60" fill="#bfbfbf"/>
<text x="399.20" y="1126.60" font-size="12.0" textLength="100.33" lengthAdjust="spacingAndGlyphs">1.09 (0.47 - 2.38)</text>
<text x="193.80" y="1140.60" font-size="13.4" text-anchor="end" textLength="85.10" lengthAdjust="spacingAndGlyphs"><tspan font-style="italic">TP53</tspan> mutation</text>
<line x1="224.20" y1="1136.10" x2="383.50" y2="1136.10" stroke="#cbcbcb" stroke-width="1.4"/>
<polygon points="220.20,1136.10 227.80,1132.80 226.00,1136.10 227.80,1139.40" fill="#cbcbcb"/>
<polygon points="387.50,1136.10 379.90,1132.80 381.70,1136.10 379.90,1139.40" fill="#cbcbcb"/>
<rect x="309.08" y="1131.30" width="9.60" height="9.60" fill="#bfbfbf"/>
<text x="399.20" y="1140.50" font-size="12.0" textLength="100.33" lengthAdjust="spacingAndGlyphs">1.18 (0.06 - 7.31)</text>
<text x="193.80" y="1154.90" font-size="13.4" text-anchor="end" textLength="22.20" lengthAdjust="spacingAndGlyphs">GO</text>
<line x1="252.42" y1="1149.90" x2="306.77" y2="1149.90" stroke="#cbcbcb" stroke-width="1.4"/>
<line x1="252.42" y1="1146.30" x2="252.42" y2="1153.50" stroke="#cbcbcb" stroke-width="1.2"/>
<line x1="306.77" y1="1146.30" x2="306.77" y2="1153.50" stroke="#cbcbcb" stroke-width="1.2"/>
<rect x="274.62" y="1145.10" width="9.60" height="9.60" fill="#bfbfbf"/>
<text x="399.20" y="1154.30" font-size="12.0" textLength="100.33" lengthAdjust="spacingAndGlyphs">0.67 (0.43 - 1.05)</text>
<text x="193.80" y="1168.50" font-size="13.4" text-anchor="end" textLength="56.80" lengthAdjust="spacingAndGlyphs">FLAG-Ida</text>
<line x1="230.50" y1="1163.70" x2="298.06" y2="1163.70" stroke="#46668f" stroke-width="1.4"/>
<line x1="230.50" y1="1160.10" x2="230.50" y2="1167.30" stroke="#46668f" stroke-width="1.2"/>
<line x1="298.06" y1="1160.10" x2="298.06" y2="1167.30" stroke="#46668f" stroke-width="1.2"/>
<rect x="260.35" y="1158.90" width="9.60" height="9.60" fill="#164a86"/>
<text x="399.20" y="1168.10" font-size="12.0" textLength="100.33" lengthAdjust="spacingAndGlyphs">0.53 (0.30 - 0.91)</text>
<line x1="202.40" y1="1180.10" x2="391.50" y2="1180.10" stroke="#111" stroke-width="1.8"/>
<line x1="207.34" y1="1180.10" x2="207.34" y2="1185.60" stroke="#111" stroke-width="1.8"/>
<text x="207.34" y="1203.40" font-size="12.3" text-anchor="middle" textLength="17.95" lengthAdjust="spacingAndGlyphs">0.2</text>
<line x1="262.20" y1="1180.10" x2="262.20" y2="1185.60" stroke="#111" stroke-width="1.8"/>
<text x="262.20" y="1203.40" font-size="12.3" text-anchor="middle" textLength="17.95" lengthAdjust="spacingAndGlyphs">0.5</text>
<line x1="303.70" y1="1180.10" x2="303.70" y2="1185.60" stroke="#111" stroke-width="1.8"/>
<text x="303.70" y="1203.40" font-size="12.3" text-anchor="middle" textLength="17.95" lengthAdjust="spacingAndGlyphs">1.0</text>
<line x1="345.20" y1="1180.10" x2="345.20" y2="1185.60" stroke="#111" stroke-width="1.8"/>
<text x="345.20" y="1203.40" font-size="12.3" text-anchor="middle" textLength="17.95" lengthAdjust="spacingAndGlyphs">2.0</text>
<line x1="386.70" y1="1180.10" x2="386.70" y2="1185.60" stroke="#111" stroke-width="1.8"/>
<text x="386.70" y="1203.40" font-size="12.3" text-anchor="middle" textLength="17.95" lengthAdjust="spacingAndGlyphs">4.0</text>
<text x="265.50" y="1227.70" font-size="18.5" textLength="62.50" lengthAdjust="spacingAndGlyphs">Odds ratio</text>
<rect x="0" y="0" width="520" height="1" fill="#000"/><rect x="0" y="1245" width="520" height="1" fill="#000"/><rect x="0" y="0" width="1" height="1246" fill="#000"/><rect x="519" y="0" width="1" height="1246" fill="#000"/>
</svg>
</body></html>
